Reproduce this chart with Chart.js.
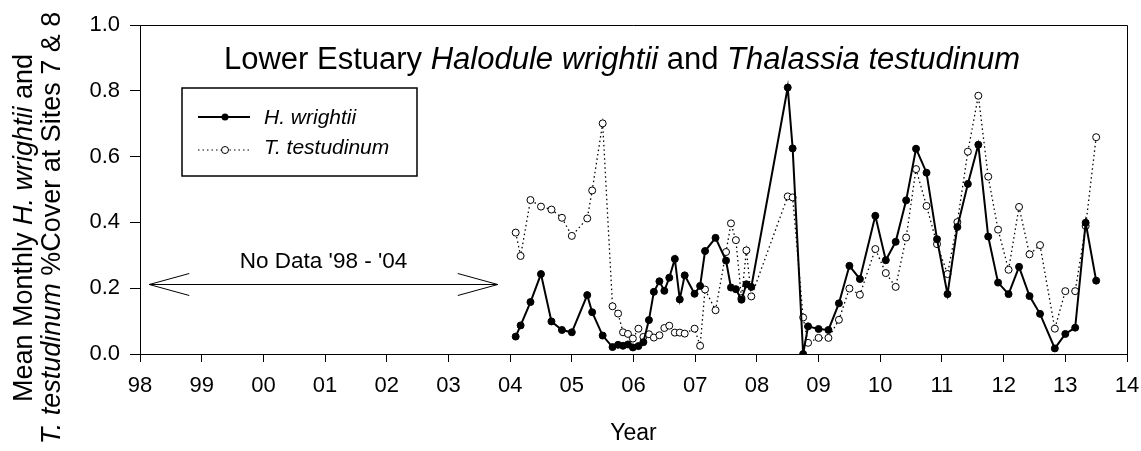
<!DOCTYPE html>
<html>
<head>
<meta charset="utf-8">
<script src="https://cdn.jsdelivr.net/npm/chart.js@4.4.1/dist/chart.umd.min.js"></script>
<style>
  html, body { margin: 0; padding: 0; background: #fff; }
  #wrap { width: 1141px; height: 451px; position: relative; }
</style>
</head>
<body>
<div id="wrap"><canvas id="seagrassChart" width="1141" height="451"></canvas></div>
<script>
// sampling dates (decimal year) shared by both series
const sampleYear = [
  2004.09, 2004.17, 2004.33, 2004.50, 2004.67, 2004.84, 2005.00, 2005.25, 2005.33, 2005.50,
  2005.66, 2005.75, 2005.83, 2005.91, 2005.99, 2006.08, 2006.16, 2006.25, 2006.33, 2006.42,
  2006.50, 2006.58, 2006.67, 2006.75, 2006.83, 2006.99, 2007.08, 2007.16, 2007.33, 2007.50,
  2007.58, 2007.66, 2007.75, 2007.83, 2007.91, 2008.50, 2008.58, 2008.75, 2008.83, 2009.00,
  2009.16, 2009.33, 2009.50, 2009.67, 2009.92, 2010.09, 2010.25, 2010.42, 2010.58, 2010.75,
  2010.92, 2011.09, 2011.25, 2011.42, 2011.59, 2011.75, 2011.91, 2012.08, 2012.25, 2012.42,
  2012.59, 2012.83, 2013.00, 2013.16, 2013.33, 2013.50
];

// H. wrightii mean monthly % cover
const wrightiiCover = [
  0.053, 0.087, 0.158, 0.243, 0.099, 0.073, 0.066, 0.179, 0.127, 0.056,
  0.021, 0.028, 0.025, 0.029, 0.020, 0.024, 0.036, 0.103, 0.189, 0.221,
  0.192, 0.232, 0.289, 0.166, 0.239, 0.183, 0.207, 0.313, 0.353, 0.284,
  0.202, 0.197, 0.165, 0.212, 0.204, 0.810, 0.625, 0.000, 0.084, 0.076,
  0.073, 0.154, 0.268, 0.228, 0.420, 0.285, 0.341, 0.467, 0.624, 0.551,
  0.349, 0.182, 0.386, 0.517, 0.636, 0.357, 0.217, 0.182, 0.265, 0.176,
  0.122, 0.017, 0.061, 0.080, 0.399, 0.223
];

// T. testudinum mean monthly % cover
const testudinumCover = [
  0.369, 0.298, 0.468, 0.448, 0.439, 0.414, 0.359, 0.412, 0.497, 0.701,
  0.145, 0.123, 0.066, 0.061, 0.047, 0.077, 0.052, 0.060, 0.050, 0.057,
  0.079, 0.086, 0.065, 0.065, 0.062, 0.077, 0.025, 0.196, 0.133, 0.310,
  0.397, 0.346, 0.170, 0.315, 0.175, 0.479, 0.476, 0.111, 0.034, 0.049,
  0.049, 0.104, 0.199, 0.180, 0.319, 0.246, 0.204, 0.354, 0.562, 0.450,
  0.334, 0.243, 0.401, 0.615, 0.785, 0.539, 0.378, 0.256, 0.447, 0.303,
  0.331, 0.077, 0.191, 0.191, 0.389, 0.659
];

const yearTicks = ["98", "99", "00", "01", "02", "03", "04", "05", "06", "07", "08", "09", "10", "11", "12", "13", "14"];
const coverTicks = ["0.0", "0.2", "0.4", "0.6", "0.8", "1.0"];

// "No Data" arrow span (years) and height (cover)
const noDataSpan = [1998.15, 2003.8];
const noDataLevel = 0.213;

const FONT = "'Liberation Sans', Arial, sans-serif";

function toPoints(ys) {
  return sampleYear.map((x, i) => ({ x: x, y: ys[i] }));
}

// draws text made of [string, italic] parts
function mixedText(ctx, parts, size, x, y) {
  let w = 0;
  parts.forEach((p) => {
    ctx.font = (p[1] ? "italic " : "") + size + "px " + FONT;
    w += ctx.measureText(p[0]).width;
  });
  let px = x - w / 2;
  ctx.textAlign = "left";
  parts.forEach((p) => {
    ctx.font = (p[1] ? "italic " : "") + size + "px " + FONT;
    ctx.fillText(p[0], px, y);
    px += ctx.measureText(p[0]).width;
  });
}

// frame, title, legend, y title and the no-data arrow
const decorPlugin = {
  id: "decor",
  afterDraw(chart) {
    const ctx = chart.ctx;
    const a = chart.chartArea;
    const xs = chart.scales.x;
    const ys = chart.scales.y;
    ctx.save();

    // top + right frame
    ctx.strokeStyle = "#000";
    ctx.lineWidth = 1;
    ctx.beginPath();
    ctx.moveTo(a.left, a.top + 0.5);
    ctx.lineTo(a.right + 0.5, a.top + 0.5);
    ctx.lineTo(a.right + 0.5, a.bottom);
    ctx.stroke();

    // title
    ctx.fillStyle = "#000";
    ctx.textBaseline = "alphabetic";
    mixedText(ctx, [
      ["Lower Estuary ", false],
      ["Halodule wrightii", true],
      [" and ", false],
      ["Thalassia testudinum", true],
    ], 31, 622, 69);

    // legend box
    ctx.lineWidth = 1.5;
    ctx.strokeRect(182, 88, 235, 88);
    // H. wrightii entry
    ctx.lineWidth = 2;
    ctx.setLineDash([]);
    ctx.beginPath();
    ctx.moveTo(198, 117);
    ctx.lineTo(250, 117);
    ctx.stroke();
    ctx.beginPath();
    ctx.arc(225, 117, 3.5, 0, Math.PI * 2);
    ctx.fill();
    // T. testudinum entry
    ctx.lineWidth = 1.2;
    ctx.setLineDash([1.5, 3]);
    ctx.beginPath();
    ctx.moveTo(198, 150);
    ctx.lineTo(250, 150);
    ctx.stroke();
    ctx.setLineDash([]);
    ctx.beginPath();
    ctx.arc(225, 150, 3.5, 0, Math.PI * 2);
    ctx.fillStyle = "#fff";
    ctx.fill();
    ctx.lineWidth = 1;
    ctx.stroke();
    ctx.fillStyle = "#000";
    ctx.font = "italic 21px " + FONT;
    ctx.textAlign = "left";
    ctx.textBaseline = "middle";
    ctx.fillText("H. wrightii", 264, 118);
    ctx.fillText("T. testudinum", 264, 148);

    // no data arrow
    const x0 = xs.getPixelForValue(noDataSpan[0]);
    const x1 = xs.getPixelForValue(noDataSpan[1]);
    const yA = Math.round(ys.getPixelForValue(noDataLevel)) + 0.5;
    ctx.lineWidth = 1;
    ctx.beginPath();
    ctx.moveTo(x0, yA);
    ctx.lineTo(x1, yA);
    ctx.moveTo(x0 + 40, yA - 11);
    ctx.lineTo(x0, yA);
    ctx.lineTo(x0 + 40, yA + 11);
    ctx.moveTo(x1 - 40, yA - 11);
    ctx.lineTo(x1, yA);
    ctx.lineTo(x1 - 40, yA + 11);
    ctx.stroke();
    ctx.font = "22.5px " + FONT;
    ctx.textAlign = "center";
    ctx.textBaseline = "alphabetic";
    ctx.fillText("No Data '98 - '04", (x0 + x1) / 2, 268);

    // y axis title, two rotated lines
    const lines = [
      [["Mean Monthly ", false], ["H. wrightii", true], [" and", false]],
      [["T. testudinum", true], [" %Cover at Sites 7 & 8", false]],
    ];
    const baseX = [32, 60];
    lines.forEach((line, li) => {
      ctx.save();
      ctx.translate(baseX[li], 228);
      ctx.rotate(-Math.PI / 2);
      mixedText(ctx, line, 27, 0, 0);
      ctx.restore();
    });

    ctx.restore();
  },
};

const ctx = document.getElementById("seagrassChart").getContext("2d");
const seagrassChart = new Chart(ctx, {
  type: "line",
  data: {
    datasets: [
      {
        label: "H. wrightii",
        data: toPoints(wrightiiCover),
        borderColor: "#000",
        borderWidth: 2,
        backgroundColor: "#000",
        pointRadius: 3.5,
        pointBorderWidth: 1,
        pointBorderColor: "#000",
        pointBackgroundColor: "#000",
        tension: 0,
        order: 1,
      },
      {
        label: "T. testudinum",
        data: toPoints(testudinumCover),
        borderColor: "#000",
        borderWidth: 1.3,
        borderDash: [1.5, 3],
        pointRadius: 3.5,
        pointBorderWidth: 1,
        pointBorderColor: "#000",
        pointBackgroundColor: "#fff",
        tension: 0,
        order: 2,
      },
    ],
  },
  options: {
    responsive: false,
    animation: false,
    events: [],
    layout: { padding: { top: 25, right: 14, left: 0, bottom: 0 } },
    plugins: {
      legend: { display: false },
      tooltip: { enabled: false },
      title: { display: false },
    },
    scales: {
      x: {
        type: "linear",
        min: 1998,
        max: 2014,
        afterFit(scale) {
          scale.height = 97;
          scale.paddingLeft = 0;
          scale.paddingRight = 0;
        },
        afterBuildTicks(scale) {
          scale.ticks = yearTicks.map((t, i) => ({ value: 1998 + i }));
        },
        ticks: {
          color: "#000",
          font: { family: FONT, size: 22 },
          padding: 11,
          maxRotation: 0,
          autoSkip: false,
          callback: (v, i) => yearTicks[i],
        },
        grid: { display: true, drawOnChartArea: false, drawTicks: true, tickLength: 8, color: "#000" },
        border: { display: true, color: "#000", width: 1 },
        title: { display: true, text: "Year", color: "#000", font: { family: FONT, size: 23 }, padding: { top: 7 } },
      },
      y: {
        min: 0,
        max: 1,
        afterFit(scale) {
          scale.width = 140;
          scale.paddingTop = 0;
          scale.paddingBottom = 0;
        },
        afterBuildTicks(scale) {
          scale.ticks = coverTicks.map((t) => ({ value: parseFloat(t) }));
        },
        ticks: {
          color: "#000",
          font: { family: FONT, size: 22 },
          padding: 10,
          callback: (v, i) => coverTicks[i],
        },
        grid: { display: true, drawOnChartArea: false, drawTicks: true, tickLength: 10, color: "#000" },
        border: { display: true, color: "#000", width: 1 },
      },
    },
  },
  plugins: [decorPlugin],
});
</script>
</body>
</html>
